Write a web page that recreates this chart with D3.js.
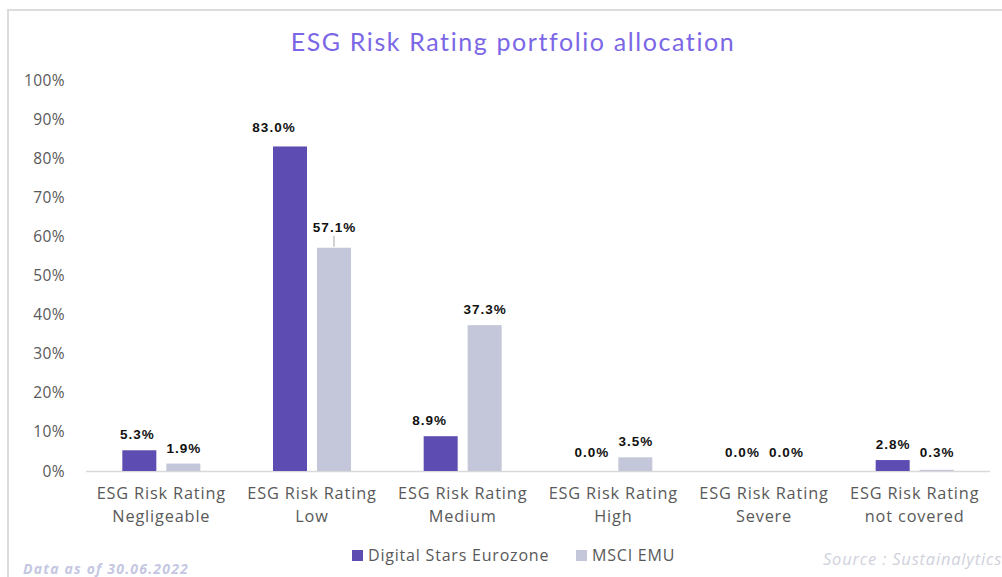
<!DOCTYPE html>
<html><head><meta charset="utf-8">
<script src="https://cdn.jsdelivr.net/npm/d3@7"></script>
<style>html,body{margin:0;padding:0;background:#fff;overflow:hidden}</style>
</head><body><svg id="c" width="1002" height="577"></svg>
<script>
const categories = [["ESG Risk Rating","Negligeable"],["ESG Risk Rating","Low"],["ESG Risk Rating","Medium"],["ESG Risk Rating","High"],["ESG Risk Rating","Severe"],["ESG Risk Rating","not covered"]];
const seriesNames = ["Digital Stars Eurozone","MSCI EMU"];
const fundValues = [5.3, 83.0, 8.9, 0.0, 0.0, 2.8];
const benchValues = [1.9, 57.1, 37.3, 3.5, 0.0, 0.3];
const yTicks = [0,10,20,30,40,50,60,70,80,90,100];
const title = "ESG Risk Rating portfolio allocation";
const footLeft = "Data as of 30.06.2022";
const footRight = "Source : Sustainalytics";

const colors = ["#5d4db2","#c4c6d9"];
const svg = d3.select("#c");
// frame
svg.append("path").attr("d","M8,577 L8,10 L1010,10").attr("fill","none").attr("stroke","#dcdcdc").attr("stroke-width",2);

const x0 = d3.scaleBand().domain(d3.range(categories.length)).range([86,990]);
const y = d3.scaleLinear().domain([0,100]).range([471,80]);
const barW = 34, gap = 10;

svg.append("text").attr("x",513).attr("y",51).attr("text-anchor","middle")
  .attr("font-family","Lato, 'Open Sans', sans-serif").attr("font-size",25).attr("letter-spacing",1.6)
  .attr("fill","#7b67e6").text(title);

// y axis labels
svg.append("g").selectAll("text").data(yTicks).join("text")
  .attr("x",65).attr("y",d=>y(d)+5.5).attr("text-anchor","end")
  .attr("font-family","'Open Sans', sans-serif").attr("font-size",15.5).attr("letter-spacing",0.4).attr("fill","#595959")
  .text(d=>d+"%");

// x axis line
svg.append("line").attr("x1",86).attr("x2",990).attr("y1",y(0)+0.5).attr("y2",y(0)+0.5).attr("stroke","#d9d9d9").attr("stroke-width",1.5);

const series = [fundValues, benchValues];
series.forEach((vals,si)=>{
  const cx = i => x0(i)+x0.bandwidth()/2 + (si===0 ? -(gap/2+barW/2) : (gap/2+barW/2));
  svg.append("g").selectAll("rect").data(vals).join("rect")
    .attr("x",(d,i)=>cx(i)-barW/2).attr("width",barW)
    .attr("y",d=>y(d)).attr("height",d=>y(0)-y(d)).attr("fill",colors[si]);
  svg.append("g").selectAll("text").data(vals).join("text")
    .attr("x",(d,i)=>{
      let dx = 0.5;
      if(si===0 && i===1) dx = -16;
      if(si===0 && i===2) dx = -11;
      if(si===0 && i===0) dx = -2;
      return cx(i)+dx;
    })
    .attr("y",(d,i)=>{
      if(si===1 && i===1) return y(d)-16;
      if(si===0 && i===1) return y(d)-14;
      return Math.min(y(d)-11, y(0)-14);
    })
    .attr("text-anchor","middle").attr("font-family","'Liberation Sans', Arial, sans-serif")
    .attr("font-weight","bold").attr("font-size",13.5).attr("letter-spacing",1).attr("fill","#111")
    .text(d=>d.toFixed(1)+"%");
  if(si===1){
    // leader line for Low benchmark label
    svg.append("line").attr("x1",cx(1)).attr("x2",cx(1)).attr("y1",y(vals[1])-12).attr("y2",y(vals[1])-1)
      .attr("stroke","#a6a6a6").attr("stroke-width",1);
  }
});

// category labels
const cat = svg.append("g").selectAll("text").data(categories).join("text")
  .attr("x",(d,i)=>x0(i)+x0.bandwidth()/2).attr("y",499).attr("text-anchor","middle")
  .attr("font-family","'Open Sans', sans-serif").attr("font-size",16.3).attr("letter-spacing",0.85).attr("fill","#595959");
cat.selectAll("tspan").data(d=>d).join("tspan")
  .attr("x",function(){return this.parentNode.getAttribute("x");})
  .attr("dy",(d,j)=>j===0?0:23).text(d=>d);

// legend
const lg = [[352,368],[576,592]];
seriesNames.forEach((n,i)=>{
  svg.append("rect").attr("x",lg[i][0]).attr("y",550).attr("width",11).attr("height",11).attr("fill",colors[i]);
  svg.append("text").attr("x",lg[i][1]).attr("y",561).attr("font-family","'Open Sans', sans-serif")
    .attr("font-size",16).attr("letter-spacing",0.8).attr("fill","#595959").text(n);
});

svg.append("text").attr("x",23).attr("y",574).attr("font-family","'Open Sans', sans-serif")
  .attr("font-size",14).attr("letter-spacing",1.2).attr("font-weight","bold").attr("font-style","italic").attr("fill","#c5c7e2").text(footLeft);
svg.append("text").attr("x",823).attr("y",565).attr("font-family","'Open Sans', sans-serif")
  .attr("font-size",16.5).attr("letter-spacing",0.8).attr("font-style","italic").attr("fill","#cfd1dc").text(footRight);
</script></body></html>
